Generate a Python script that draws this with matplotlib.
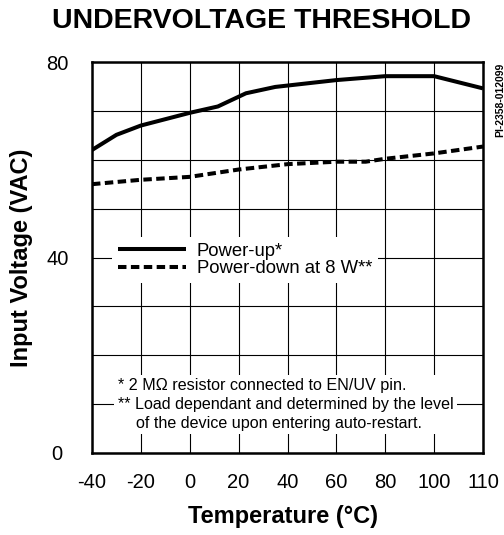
import matplotlib
matplotlib.use("Agg")
import matplotlib.pyplot as plt

# Data (x positions on an equally spaced axis; last gridline is labelled 110)
temp_up = [-40, -30, -20, -10, 0, 11.5, 23, 35, 60, 80, 100, 120]
volt_up = [62.0, 65.1, 67.0, 68.3, 69.6, 70.9, 73.6, 74.9, 76.3, 77.1, 77.1, 74.6]
temp_down = [-40, -20, 0, 20, 40, 60, 72, 80, 100, 120]
volt_down = [55.0, 55.9, 56.5, 58.0, 59.1, 59.6, 59.6, 60.2, 61.3, 62.7]
xtick_pos = [-40, -20, 0, 20, 40, 60, 80, 100, 120]
xtick_labels = ["-40", "-20", "0", "20", "40", "60", "80", "100", "110"]
ytick_pos = [0, 10, 20, 30, 40, 50, 60, 70, 80]
ytick_labels = ["0", "", "", "", "40", "", "", "", "80"]

plt.rcParams['font.family'] = ['Liberation Sans', 'DejaVu Sans']

W, H = 504, 535
fig = plt.figure(figsize=(W / 100, H / 100), dpi=100)
L, R, T, B = 92, 483, 62, 453
ax = fig.add_axes([L / W, 1 - B / H, (R - L) / W, (B - T) / H])

ax.set_xlim(-40, 120)
ax.set_ylim(0, 80)
ax.set_xticks(xtick_pos)
ax.set_xticklabels(xtick_labels, fontsize=14.5)
ax.set_yticks(ytick_pos)
ax.set_yticklabels(ytick_labels, fontsize=14.5, ha='center')
ax.tick_params(length=0)
ax.tick_params(axis='x', pad=14.5)
ax.tick_params(axis='y', pad=25)
ax.grid(True, color='black', linewidth=0.8)
ax.set_axisbelow(True)
for s in ax.spines.values():
    s.set_linewidth(1.8)

l1, = ax.plot(temp_up, volt_up, color='black', linewidth=2.9, label='Power-up*',
              zorder=3, solid_capstyle='butt')
l2, = ax.plot(temp_down, volt_down, color='black', linewidth=2.9,
              linestyle=(0, (2.1, 1.1)), label='Power-down at 8 W**', zorder=3)

leg = ax.legend(handles=[l1, l2], loc='upper left',
                bbox_to_anchor=((112 - L) / (R - L), (B - 237) / (B - T)),
                fontsize=13.3, frameon=True, fancybox=False, handlelength=3.7,
                handletextpad=0.6, borderpad=0.3, labelspacing=0.05, borderaxespad=0)
leg.get_frame().set_edgecolor('none')
leg.get_frame().set_facecolor('white')
leg.get_frame().set_alpha(1)

note = ("* 2 M\u03a9 resistor connected to EN/UV pin.\n"
        "** Load dependant and determined by the level\n"
        "    of the device upon entering auto-restart.")
ax.text((118 - L) / (R - L), (B - 404.5) / (B - T), note, transform=ax.transAxes,
        fontsize=11.6, va='center', ha='left', linespacing=1.3,
        bbox=dict(facecolor='white', edgecolor='none', pad=2.5))

fig.text(261 / W, 1 - 21 / H, "UNDERVOLTAGE THRESHOLD", fontsize=20.5, fontweight='bold',
         ha='center', va='center')
fig.text(22 / W, 1 - 258 / H, "Input Voltage (VAC)", fontsize=17, fontweight='bold',
         rotation=90, ha='center', va='center')
fig.text(283 / W, 1 - 517 / H, "Temperature (\u00b0C)", fontsize=17, fontweight='bold',
         ha='center', va='center')
fig.text(500 / W, 1 - 100 / H, "PI-2358-012099", fontsize=7.5, fontweight='bold',
         rotation=90, ha='center', va='center')

fig.savefig("out.png", dpi=100)
